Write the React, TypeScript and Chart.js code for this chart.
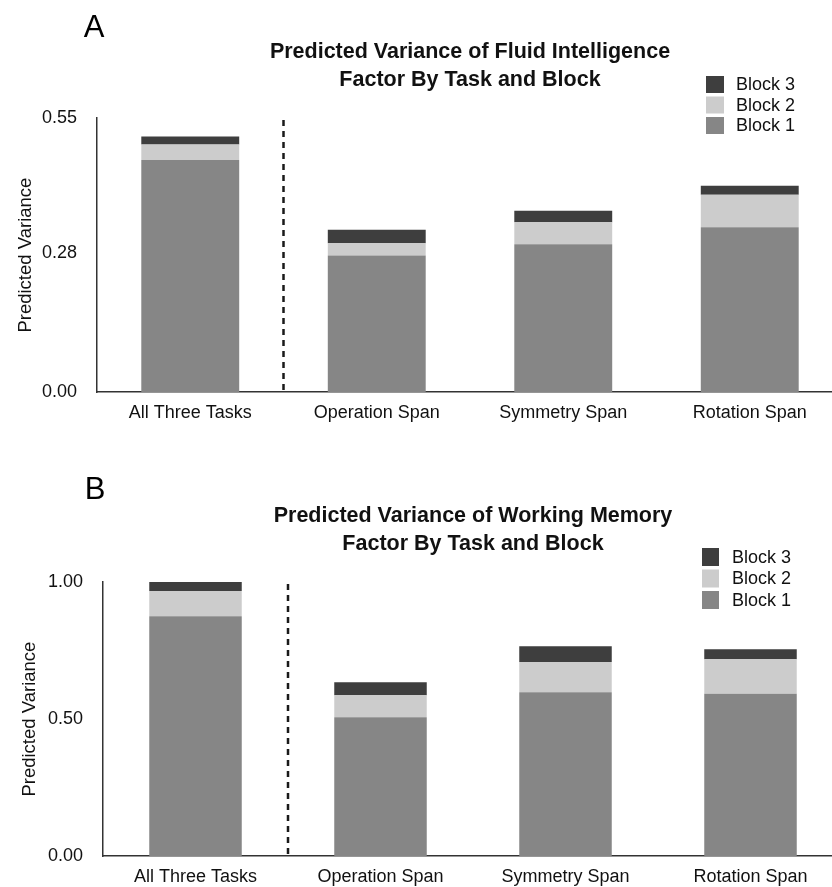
import React, { useEffect, useRef } from "react";
import { Chart, registerables } from "chart.js";

Chart.register(...registerables);

// ---------- data ----------
const categories = ["All Three Tasks", "Operation Span", "Symmetry Span", "Rotation Span"];
const seriesLabels = ["Block 1", "Block 2", "Block 3"];
const seriesColors = ["#868686", "#cccccc", "#3e3e3e"];

const fluidBlock1 = [0.466, 0.274, 0.297, 0.331];
const fluidBlock2 = [0.031, 0.025, 0.044, 0.065];
const fluidBlock3 = [0.016, 0.027, 0.023, 0.018];
const fluidTicks = [0, 0.28, 0.55];
const fluidTitle = ["Predicted Variance of Fluid Intelligence", "Factor By Task and Block"];

const wmBlock1 = [0.875, 0.507, 0.598, 0.592];
const wmBlock2 = [0.092, 0.08, 0.11, 0.126];
const wmBlock3 = [0.033, 0.047, 0.058, 0.037];
const wmTicks = [0, 0.5, 1.0];
const wmTitle = ["Predicted Variance of Working Memory", "Factor By Task and Block"];

const yAxisTitle = "Predicted Variance";

const FONT = "'Liberation Sans', Arial, Helvetica, sans-serif";

const decorPlugin = {
  id: "panelDecor",
  afterDraw(chart: any, _args: any, opts: any) {
    const ctx = chart.ctx;
    const { chartArea } = chart;
    const xs = chart.scales.x;
    ctx.save();
    // panel letter
    ctx.fillStyle = "#000";
    ctx.font = `31px ${FONT}`;
    ctx.textAlign = "center";
    ctx.textBaseline = "middle";
    ctx.fillText(opts.letter, opts.letterX, opts.letterY);
    // dashed divider between first and second category
    const dx = (xs.getPixelForValue(0) + xs.getPixelForValue(1)) / 2;
    ctx.beginPath();
    ctx.setLineDash([6, 5]);
    ctx.lineWidth = 2.5;
    ctx.strokeStyle = "#1a1a1a";
    ctx.moveTo(dx, chartArea.top + 2);
    ctx.lineTo(dx, chartArea.bottom);
    ctx.stroke();
    ctx.setLineDash([]);
    // legend (reversed order)
    const ds = chart.data.datasets.slice().reverse();
    ctx.font = `18px ${FONT}`;
    ctx.textAlign = "left";
    ctx.textBaseline = "middle";
    ds.forEach((d: any, i: number) => {
      const y = opts.legendY + i * opts.legendRow;
      ctx.fillStyle = d.backgroundColor;
      ctx.fillRect(opts.legendX, y, opts.boxW, opts.boxH);
      ctx.fillStyle = "#111";
      ctx.fillText(d.label, opts.legendTextX, y + opts.boxH / 2 + 1);
    });
    ctx.restore();
  },
};

function makeConfig(p: any) {
  const datasets = [p.b1, p.b2, p.b3].map((vals: number[], i: number) => ({
    label: seriesLabels[i],
    data: vals,
    backgroundColor: seriesColors[i],
    borderWidth: 0,
    barPercentage: p.barPct,
    categoryPercentage: 1,
  }));
  const tickFont = { family: FONT, size: 18 };
  return {
    type: "bar",
    data: { labels: categories, datasets },
    plugins: [decorPlugin],
    options: {
      animation: false,
      responsive: false,
      maintainAspectRatio: false,
      layout: { padding: { left: 0, right: 7, top: 0, bottom: 0 } },
      plugins: {
        legend: { display: false },
        tooltip: { enabled: false },
        title: {
          display: true,
          text: p.title,
          fullSize: false,
          color: "#111",
          font: { family: FONT, size: 21.5, weight: "bold", lineHeight: 1.3 },
          padding: { top: p.titleTop, bottom: p.titleBottom },
        },
        panelDecor: p.decor,
      },
      scales: {
        x: {
          stacked: true,
          grid: { display: false, drawTicks: false },
          border: { display: true, color: "#333", width: 1.5 },
          ticks: { font: tickFont, color: "#111", padding: 10, maxRotation: 0, autoSkip: false },
          afterFit(s: any) {
            s.height = 30;
          },
        },
        y: {
          stacked: true,
          min: 0,
          max: p.max,
          grid: { display: false, drawTicks: false },
          border: { display: true, color: "#333", width: 1.5 },
          ticks: {
            font: tickFont,
            color: "#111",
            padding: 20,
            callback: (v: any) => Number(v).toFixed(2),
          },
          afterBuildTicks(s: any) {
            s.ticks = p.ticks.map((v: number) => ({ value: v }));
          },
          afterFit(s: any) {
            s.width = p.yWidth;
          },
          title: {
            display: true,
            text: yAxisTitle,
            color: "#111",
            font: { family: FONT, size: 18.5 },
            padding: { top: p.yTitlePad, bottom: 0 },
          },
        },
      },
    },
  };
}

function Panel(props: { cfg: any; top: number }) {
  const ref = useRef<HTMLCanvasElement>(null);
  useEffect(() => {
    if (!ref.current) return;
    const chart = new Chart(ref.current, makeConfig(props.cfg) as any);
    return () => chart.destroy();
  }, []);
  return (
    <canvas
      ref={ref}
      width={850}
      height={423}
      style={{ position: "absolute", left: 0, top: props.top, width: 850, height: 423 }}
    />
  );
}

const panelA = {
  b1: fluidBlock1,
  b2: fluidBlock2,
  b3: fluidBlock3,
  ticks: fluidTicks,
  max: 0.55,
  title: fluidTitle,
  titleTop: 38,
  titleBottom: 24.1,
  yWidth: 97,
  yTitlePad: 15,
  barPct: 0.525,
  decor: { letter: "A", letterX: 94, letterY: 28, legendX: 706, legendY: 76, legendRow: 20.5, boxW: 18, boxH: 17, legendTextX: 736 },
};

const panelB = {
  b1: wmBlock1,
  b2: wmBlock2,
  b3: wmBlock3,
  ticks: wmTicks,
  max: 1.0,
  title: wmTitle,
  titleTop: 38,
  titleBottom: 24.1,
  yWidth: 103,
  yTitlePad: 19,
  barPct: 0.5,
  decor: { letter: "B", letterX: 95, letterY: 26, legendX: 702, legendY: 84, legendRow: 21.5, boxW: 17, boxH: 18, legendTextX: 732 },
};

export default function App() {
  return (
    <div
      style={{
        position: "absolute",
        left: 0,
        top: 0,
        width: 832,
        height: 887,
        overflow: "hidden",
        background: "#fff",
      }}
    >
      <Panel cfg={panelA} top={0} />
      <Panel cfg={panelB} top={464} />
    </div>
  );
}
